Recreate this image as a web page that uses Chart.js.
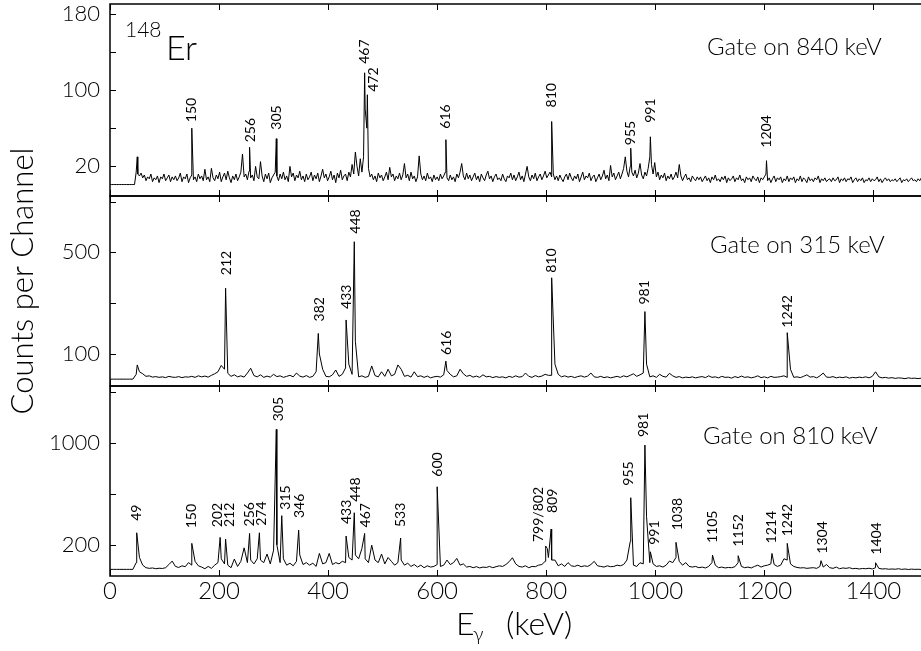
<!DOCTYPE html>
<html>
<head>
<meta charset="utf-8">
<title>148Er gated spectra</title>
<script src="https://cdn.jsdelivr.net/npm/chart.js@4.4.1/dist/chart.umd.min.js"></script>
<style>
  html, body { margin: 0; padding: 0; background: #fff; }
  #wrap { position: relative; width: 921px; height: 651px; overflow: hidden; }
  #wrap canvas { position: absolute; left: 0; top: 0; }
</style>
</head>
<body>
<div id="wrap">
  <canvas id="topChart" width="923" height="651"></canvas>
  <canvas id="midChart" width="923" height="651"></canvas>
  <canvas id="botChart" width="923" height="651"></canvas>
</div>
<script>
'use strict'

/* global Chart */

// gate on 840 keV: 3 keV per channel, from 0 keV (40 channels per row)
const topKevPerChannel = 3
const topCounts = [
  1, 1, 1, 1, 1, 1, 1, 1, 1, 1, 1, 1, 1, 1, 1, 1, 14, 12, 10, 13, 8, 11, 5, 9, 7, 12, 4, 8, 6, 10, 3, 9, 7, 12, 5, 8, 11, 4, 9, 6,
  10, 5, 8, 13, 4, 9, 7, 12, 3, 8, 11, 6, 9, 4, 12, 7, 10, 5, 17, 6, 9, 4, 18, 8, 5, 11, 7, 14, 4, 9, 13, 6, 15, 8, 3, 10, 6, 12, 5, 9,
  14, 33, 9, 12, 6, 15, 8, 11, 5, 20, 9, 7, 25, 10, 4, 12, 7, 13, 3, 8, 11, 14, 10, 5, 12, 7, 14, 6, 10, 4, 20, 9, 13, 5, 11, 8, 15, 6, 10, 4,
  12, 6, 9, 14, 5, 11, 7, 13, 4, 10, 17, 8, 12, 5, 9, 15, 6, 11, 3, 13, 8, 16, 6, 10, 12, 5, 14, 9, 22, 12, 35, 20, 10, 28, 14, 30, 80, 60, 18, 9,
  12, 6, 10, 4, 13, 8, 11, 5, 9, 14, 6, 19, 9, 12, 5, 10, 7, 13, 6, 11, 23, 8, 12, 5, 14, 7, 10, 4, 9, 31, 12, 6, 10, 5, 13, 7, 9, 4, 11, 6,
  9, 5, 12, 7, 10, 14, 8, 5, 11, 6, 9, 4, 12, 8, 14, 23, 10, 6, 13, 7, 11, 5, 9, 13, 6, 10, 4, 12, 8, 5, 11, 15, 7, 10, 4, 9, 12, 6, 8, 5,
  12, 7, 4, 10, 8, 13, 6, 11, 5, 9, 14, 6, 10, 4, 12, 20, 9, 5, 11, 7, 13, 5, 9, 12, 6, 10, 15, 8, 11, 14, 9, 12, 6, 10, 5, 11, 7, 4, 9, 12,
  6, 13, 8, 5, 10, 7, 12, 4, 9, 14, 6, 10, 8, 13, 5, 9, 11, 4, 8, 12, 6, 10, 16, 7, 11, 5, 21, 9, 13, 6, 10, 14, 7, 12, 18, 30, 15, 9, 20, 14,
  10, 16, 8, 13, 23, 11, 7, 14, 10, 18, 30, 22, 12, 24, 9, 14, 6, 11, 8, 13, 5, 10, 7, 12, 6, 9, 14, 8, 22, 10, 5, 9, 12, 6, 8, 4, 10, 7, 5, 9,
  6, 9, 4, 7, 10, 5, 8, 3, 9, 6, 11, 5, 7, 4, 9, 6, 10, 3, 8, 5, 7, 10, 4, 8, 6, 11, 5, 7, 3, 9, 6, 8, 4, 10, 7, 5, 9, 3, 8, 6,
  9, 12, 5, 8, 3, 7, 10, 4, 8, 6, 9, 3, 7, 5, 10, 4, 8, 6, 9, 3, 7, 5, 10, 4, 8, 6, 3, 9, 5, 7, 4, 8, 6, 10, 3, 7, 5, 8, 4, 6,
  7, 4, 8, 5, 6, 9, 3, 7, 5, 8, 4, 7, 6, 9, 3, 6, 8, 4, 7, 5, 8, 3, 6, 5, 8, 4, 7, 5, 6, 9, 4, 7, 3, 6, 8, 5, 7, 4, 6, 5,
  7, 4, 6, 8, 3, 6, 5, 7, 4, 6, 8, 5, 6, 4, 7, 5, 8, 4
]
const topPeakEnergy = [50, 150, 256, 305, 467, 472, 616, 810, 955, 991, 1204]
const topPeakCounts = [30, 60, 40, 49, 118, 95, 48, 67, 39, 51, 26]
const topLabelEnergy = [150, 256, 305, 467, 472, 616, 810, 955, 991, 1204]
const topLabelText = ['150', '256', '305', '467', '472', '616', '810', '955', '991', '1204']
const topYTicks = [20, 60, 100, 140, 180]
const topYLabels = [20, 100, 180]

// gate on 315 keV: 6 keV per channel, from 0 keV (20 channels per row)
const midKevPerChannel = 6
const midCounts = [
  1, 1, 1, 1, 1, 1, 1, 1, 20, 30, 22, 12, 14, 9, 11, 8, 10, 7, 12, 9,
  8, 11, 7, 10, 9, 12, 8, 14, 10, 13, 9, 16, 22, 30, 55, 40, 24, 12, 18, 10,
  14, 9, 25, 44, 15, 10, 18, 8, 13, 9, 20, 11, 14, 8, 12, 16, 10, 25, 13, 9,
  15, 8, 12, 30, 100, 40, 12, 10, 18, 37, 12, 20, 45, 60, 20, 150, 10, 14, 8, 12,
  53, 15, 10, 30, 12, 40, 14, 20, 57, 40, 12, 16, 9, 30, 11, 14, 8, 13, 6, 10,
  12, 9, 18, 35, 20, 10, 14, 40, 22, 12, 16, 9, 13, 8, 18, 10, 12, 7, 11, 8,
  10, 6, 12, 8, 14, 9, 11, 25, 12, 8, 15, 10, 13, 20, 16, 16, 60, 20, 10, 14,
  9, 12, 7, 11, 14, 9, 13, 25, 10, 8, 12, 7, 10, 6, 9, 12, 8, 14, 10, 16,
  22, 12, 18, 25, 60, 10, 14, 8, 20, 12, 9, 24, 14, 8, 11, 6, 9, 7, 10, 6,
  9, 11, 7, 14, 8, 10, 6, 12, 8, 9, 5, 11, 7, 13, 8, 10, 6, 9, 14, 7,
  10, 6, 12, 8, 9, 11, 14, 8, 40, 8, 10, 7, 12, 18, 9, 11, 6, 14, 25, 9,
  8, 11, 6, 9, 7, 10, 5, 8, 6, 9, 7, 10, 6, 12, 30, 10, 6, 8, 5, 7,
  4, 6, 5, 3, 6, 4, 5, 3, 5
]
const midPeakEnergy = [50, 212, 382, 433, 448, 616, 810, 981, 1242]
const midPeakCounts = [57, 359, 181, 234, 542, 72, 400, 267, 184]
const midLabelEnergy = [212, 382, 433, 448, 616, 810, 981, 1242]
const midLabelText = ['212', '382', '433', '448', '616', '810', '981', '1242']
const midYTicks = [100, 300, 500, 700]
const midYLabels = [100, 500]

// gate on 810 keV: 6 keV per channel, from 0 keV (20 channels per row)
const botKevPerChannel = 6
const botCounts = [
  7, 7, 7, 7, 7, 7, 7, 7, 60, 100, 40, 20, 15, 18, 12, 16, 14, 20, 45, 72,
  30, 22, 35, 28, 60, 40, 70, 35, 25, 12, 30, 15, 40, 60, 90, 50, 40, 20, 88, 30,
  70, 176, 60, 80, 50, 90, 80, 60, 127, 50, 158, 200, 60, 90, 40, 55, 35, 70, 120, 45,
  60, 40, 55, 30, 132, 50, 60, 132, 45, 60, 50, 70, 60, 100, 80, 120, 90, 171, 90, 60,
  197, 80, 60, 127, 50, 100, 70, 40, 60, 80, 40, 55, 30, 45, 25, 40, 20, 35, 25, 30,
  45, 30, 40, 80, 45, 60, 93, 40, 50, 25, 30, 20, 28, 18, 25, 22, 30, 20, 28, 35,
  30, 45, 67, 98, 50, 30, 25, 35, 20, 30, 28, 40, 45, 70, 100, 80, 80, 35, 50, 30,
  60, 35, 30, 40, 28, 35, 30, 45, 70, 35, 30, 25, 35, 28, 30, 40, 35, 45, 80, 224,
  40, 30, 59, 50, 420, 60, 50, 30, 35, 25, 40, 72, 60, 100, 70, 40, 60, 30, 25, 30,
  20, 25, 18, 30, 60, 40, 20, 25, 18, 22, 20, 28, 60, 30, 20, 25, 18, 30, 40, 25,
  35, 40, 50, 45, 30, 40, 90, 80, 50, 30, 22, 18, 20, 15, 18, 20, 15, 30, 25, 45,
  20, 15, 25, 12, 18, 15, 20, 12, 15, 10, 14, 12, 16, 10, 20, 15, 10, 12, 8, 10,
  8, 12, 7, 10, 6, 9, 7, 8, 6
]
const botPeakEnergy = [49, 150, 202, 212, 256, 274, 305, 315, 346, 433, 448, 467, 533, 600,
  799, 802, 809, 955, 981, 991, 1038, 1105, 1152, 1214, 1242, 1304, 1404]
const botPeakCounts = [294, 211, 258, 245, 289, 294, 1105, 428, 315, 268, 451, 289, 253, 655,
  190, 170, 323, 569, 982, 145, 219, 119, 114, 132, 211, 75, 59]
const botLabelEnergy = [49, 150, 202, 212, 256, 274, 305, 315, 346, 433, 448, 467, 533, 600,
  799, 809, 955, 981, 991, 1038, 1105, 1152, 1214, 1242, 1304, 1404]
const botLabelText = ['49', '150', '202', '212', '256', '274', '305', '315', '346', '433', '448', '467', '533', '600',
  '799/802', '809', '955', '981', '991', '1038', '1105', '1152', '1214', '1242', '1304', '1404']
const botYTicks = [200, 600, 1000, 1400]
const botYLabels = [200, 1000]

const energyTicks = [0, 200, 400, 600, 800, 1000, 1200, 1400]
const ENERGY_MAX = 1491

const gateText = ['Gate on 840 keV', 'Gate on 315 keV', 'Gate on 810 keV']
const nucleusMass = '148'
const nucleusName = 'Er'
const yTitle = 'Counts per Channel'
const xTitle = ['E', 'γ', '(keV)']

const FONT = 'Lato, "Open Sans", sans-serif'

// label placement: [shift right px, gap above peak px]
const topLabelPos = {
  150: [0, 6], 256: [1, 5], 305: [0, 9], 467: [0, 9], 472: [6, 3],
  616: [0, 11], 810: [0, 14], 955: [0, 3], 991: [0, 14], 1204: [0, 13]
}
const midLabelPos = {
  212: [1, 13], 382: [1, 12], 433: [0, 11], 448: [1, 8], 616: [1, 6],
  810: [0, 5], 981: [0, 7], 1242: [0, 5]
}
const botLabelPos = {
  49: [0, 12], 150: [0, 15], 202: [-3, 10], 212: [4, 12], 256: [0, 7], 274: [2, 7],
  305: [2, 8], 315: [4, 6], 346: [1, 12], 433: [0, 12], 448: [1, 11], 467: [1, 6],
  533: [0, 11], 600: [0, 10], '799/802': [-7, 4], 809: [1, 16], 955: [-2, 12],
  981: [-1, 8], 991: [4, 7], 1038: [1, 12], 1105: [0, 12], 1152: [0, 9],
  1214: [0, 10], 1242: [0, 7], 1304: [1, 7], 1404: [1, 8]
}

function spectrum (counts, kevPerChannel, peakE, peakN) {
  const pts = counts.map((c, i) => ({ x: i * kevPerChannel, y: c }))
  peakE.forEach((e, i) => pts.push({ x: e, y: peakN[i] }))
  pts.sort((a, b) => a.x - b.x)
  return pts
}

function drawText (ctx, t) {
  ctx.save()
  ctx.font = `300 ${t.size}px ${FONT}`
  ctx.textAlign = t.align || 'left'
  ctx.translate(t.x, t.y)
  if (t.rotate) ctx.rotate(-Math.PI / 2)
  ctx.fillText(t.text, 0, 0)
  ctx.restore()
}

function framePlugin (panel) {
  return {
    id: 'frame',
    afterDraw (chart) {
      const { ctx, chartArea: a, scales: { x, y } } = chart
      ctx.save()
      ctx.strokeStyle = '#000'
      ctx.lineWidth = 1.5
      ctx.strokeRect(a.left, a.top, a.right - a.left, a.bottom - a.top)
      ctx.lineWidth = 1
      ctx.beginPath()
      for (const v of panel.yTicks) {
        const py = Math.round(y.getPixelForValue(v)) + 0.5
        ctx.moveTo(a.left, py)
        ctx.lineTo(a.left + 6, py)
      }
      for (const v of energyTicks) {
        const px = Math.round(x.getPixelForValue(v)) + 0.5
        ctx.moveTo(px, a.top)
        ctx.lineTo(px, a.top + 6)
        ctx.moveTo(px, a.bottom)
        ctx.lineTo(px, a.bottom - 6)
      }
      ctx.stroke()

      // peak energies, written upwards above each line
      ctx.fillStyle = '#000'
      ctx.textAlign = 'left'
      ctx.textBaseline = 'middle'
      ctx.font = `400 14px ${FONT}`
      panel.labelE.forEach((e, i) => {
        const text = panel.labelText[i]
        const [dx, gap] = panel.labelPos[text] || [0, 9]
        const h = panel.peakN[panel.peakE.indexOf(e)]
        ctx.save()
        ctx.translate(x.getPixelForValue(e) + dx, y.getPixelForValue(h) - gap)
        ctx.rotate(-Math.PI / 2)
        ctx.fillText(text, 0, 0)
        ctx.restore()
      })

      ctx.textBaseline = 'alphabetic'
      panel.texts.forEach(t => drawText(ctx, t))
      ctx.restore()
    }
  }
}

function makePanel (id, panel) {
  const tickFont = { family: FONT, weight: 300 }
  return new Chart(document.getElementById(id), {
    type: 'line',
    data: {
      datasets: [{
        data: spectrum(panel.counts, panel.kevPerChannel, panel.peakE, panel.peakN),
        borderColor: '#000',
        borderWidth: 1,
        pointRadius: 0,
        fill: false,
        tension: 0
      }]
    },
    options: {
      responsive: false,
      animation: false,
      events: [],
      layout: { padding: { left: 0, right: 0, top: panel.padTop, bottom: panel.padBottom } },
      plugins: { legend: { display: false }, tooltip: { enabled: false } },
      scales: {
        x: {
          type: 'linear',
          min: 0,
          max: ENERGY_MAX,
          display: panel.showX,
          grid: { display: false, drawTicks: false },
          border: { display: false },
          afterBuildTicks: (s) => { s.ticks = energyTicks.map(v => ({ value: v })) },
          afterFit: (s) => {
            if (panel.showX) s.height = 75
            s.paddingLeft = 0
            s.paddingRight = 0
          },
          ticks: {
            padding: 1,
            autoSkip: false,
            maxRotation: 0,
            color: '#000',
            font: Object.assign({ size: 24 }, tickFont),
            callback: (v) => String(v)
          }
        },
        y: {
          type: 'linear',
          min: panel.yMin,
          max: panel.yMax,
          grid: { display: false, drawTicks: false },
          border: { display: false },
          afterBuildTicks: (s) => { s.ticks = panel.yTicks.map(v => ({ value: v })) },
          afterFit: (s) => {
            s.width = 110
            s.paddingTop = 0
            s.paddingBottom = 0
          },
          ticks: {
            padding: 10,
            autoSkip: false,
            color: '#000',
            font: Object.assign({ size: 22 }, tickFont),
            callback: (v) => panel.yLabels.includes(v) ? String(v) : ''
          }
        }
      }
    },
    plugins: [framePlugin(panel)]
  })
}

makePanel('topChart', {
  counts: topCounts,
  kevPerChannel: topKevPerChannel,
  peakE: topPeakEnergy,
  peakN: topPeakCounts,
  labelE: topLabelEnergy,
  labelText: topLabelText,
  labelPos: topLabelPos,
  yTicks: topYTicks,
  yLabels: topYLabels,
  yMin: -11,
  yMax: 190,
  padTop: 4,
  padBottom: 455,
  showX: false,
  texts: [
    { text: gateText[0], x: 707, y: 55, size: 24 },
    { text: nucleusMass, x: 125, y: 37, size: 21 },
    { text: nucleusName, x: 166, y: 60, size: 34 }
  ]
})

makePanel('midChart', {
  counts: midCounts,
  kevPerChannel: midKevPerChannel,
  peakE: midPeakEnergy,
  peakN: midPeakCounts,
  labelE: midLabelEnergy,
  labelText: midLabelText,
  labelPos: midLabelPos,
  yTicks: midYTicks,
  yLabels: midYLabels,
  yMin: -26,
  yMax: 722,
  padTop: 196,
  padBottom: 265,
  showX: false,
  texts: [
    { text: gateText[1], x: 710, y: 253, size: 24 },
    { text: yTitle, x: 33, y: 281, size: 31, rotate: true, align: 'center' }
  ]
})

makePanel('botChart', {
  counts: botCounts,
  kevPerChannel: botKevPerChannel,
  peakE: botPeakEnergy,
  peakN: botPeakCounts,
  labelE: botLabelEnergy,
  labelText: botLabelText,
  labelPos: botLabelPos,
  yTicks: botYTicks,
  yLabels: botYLabels,
  yMin: -45,
  yMax: 1445,
  padTop: 386,
  padBottom: 0,
  showX: true,
  texts: [
    { text: gateText[2], x: 703, y: 444, size: 24 },
    { text: xTitle[0], x: 456, y: 635, size: 32 },
    { text: xTitle[1], x: 473, y: 641, size: 20 },
    { text: xTitle[2], x: 506, y: 635, size: 32 }
  ]
})
</script>
</body>
</html>
